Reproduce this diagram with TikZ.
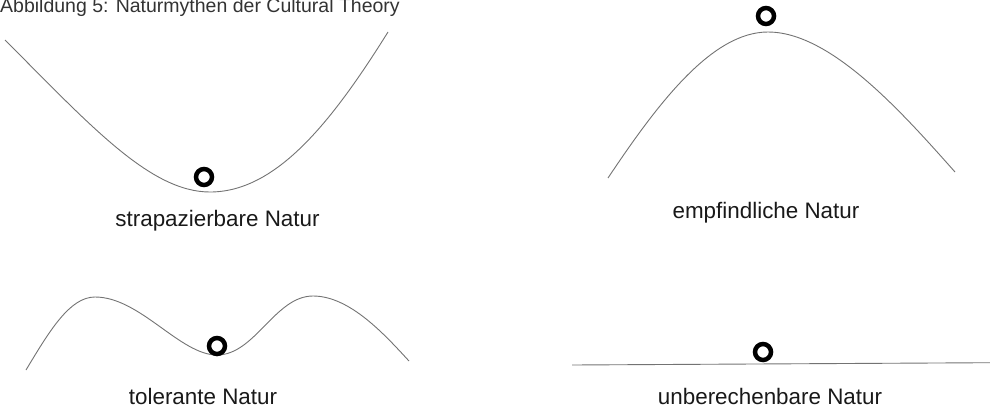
\documentclass[tikz,border=0pt]{standalone}
\usepackage{fontspec}
\setmainfont{Liberation Sans}
\begin{document}
\begin{tikzpicture}[x=1pt,y=-1pt,
  curve/.style={draw=black!55,line width=0.9pt},
  ball/.style={circle,draw=black,line width=4.5pt,minimum size=16pt,inner sep=0pt},
  caption/.style={anchor=base,inner sep=0pt,font=\fontsize{22.4}{26}\selectfont,text=black!90},
  heading/.style={anchor=base west,inner sep=0pt,font=\fontsize{19.5}{23}\selectfont,text=black!80}]
\useasboundingbox (0,0) rectangle (990,407);

% title (clipped at the top edge)
\begin{scope}
\clip (0,0) rectangle (990,407);
\node[heading] (title) at (0,12.5) {Abbildung 5: Naturmythen der Cultural Theory};
\end{scope}

% strapazierbare Natur: a valley
\draw[curve] (5,40) .. controls (90,125) and (150,192) .. (210,192)
             .. controls (275,192) and (330,125) .. (388,32);
\node[ball] (b1) at (204,177) {};
\node[caption] (l1) at (217.5,226) {strapazierbare Natur};

% empfindliche Natur: a hilltop
\draw[curve] (608,178) .. controls (658,103) and (712,32) .. (768,32)
             .. controls (830,32) and (900,110) .. (955,172);
\node[ball] (b2) at (766,16) {};
\node[caption] (l2) at (766,218) {empfindliche Natur};

% tolerante Natur: a valley between two hills
\draw[curve] (26,370) .. controls (50,330) and (70,297) .. (95,297)
             .. controls (140,297) and (180,355) .. (217,355)
             .. controls (255,355) and (275,296) .. (313,296)
             .. controls (350,296) and (385,335) .. (409,361);
\node[ball] (b3) at (217,346) {};
\node[caption] (l3) at (203,404.5) {tolerante Natur};

% unberechenbare Natur: a flat plane
\draw[curve] (572,365) -- (990,362.7);
\node[ball] (b4) at (763,352) {};
\node[caption] (l4) at (770,404.5) {unberechenbare Natur};
\end{tikzpicture}
\end{document}
